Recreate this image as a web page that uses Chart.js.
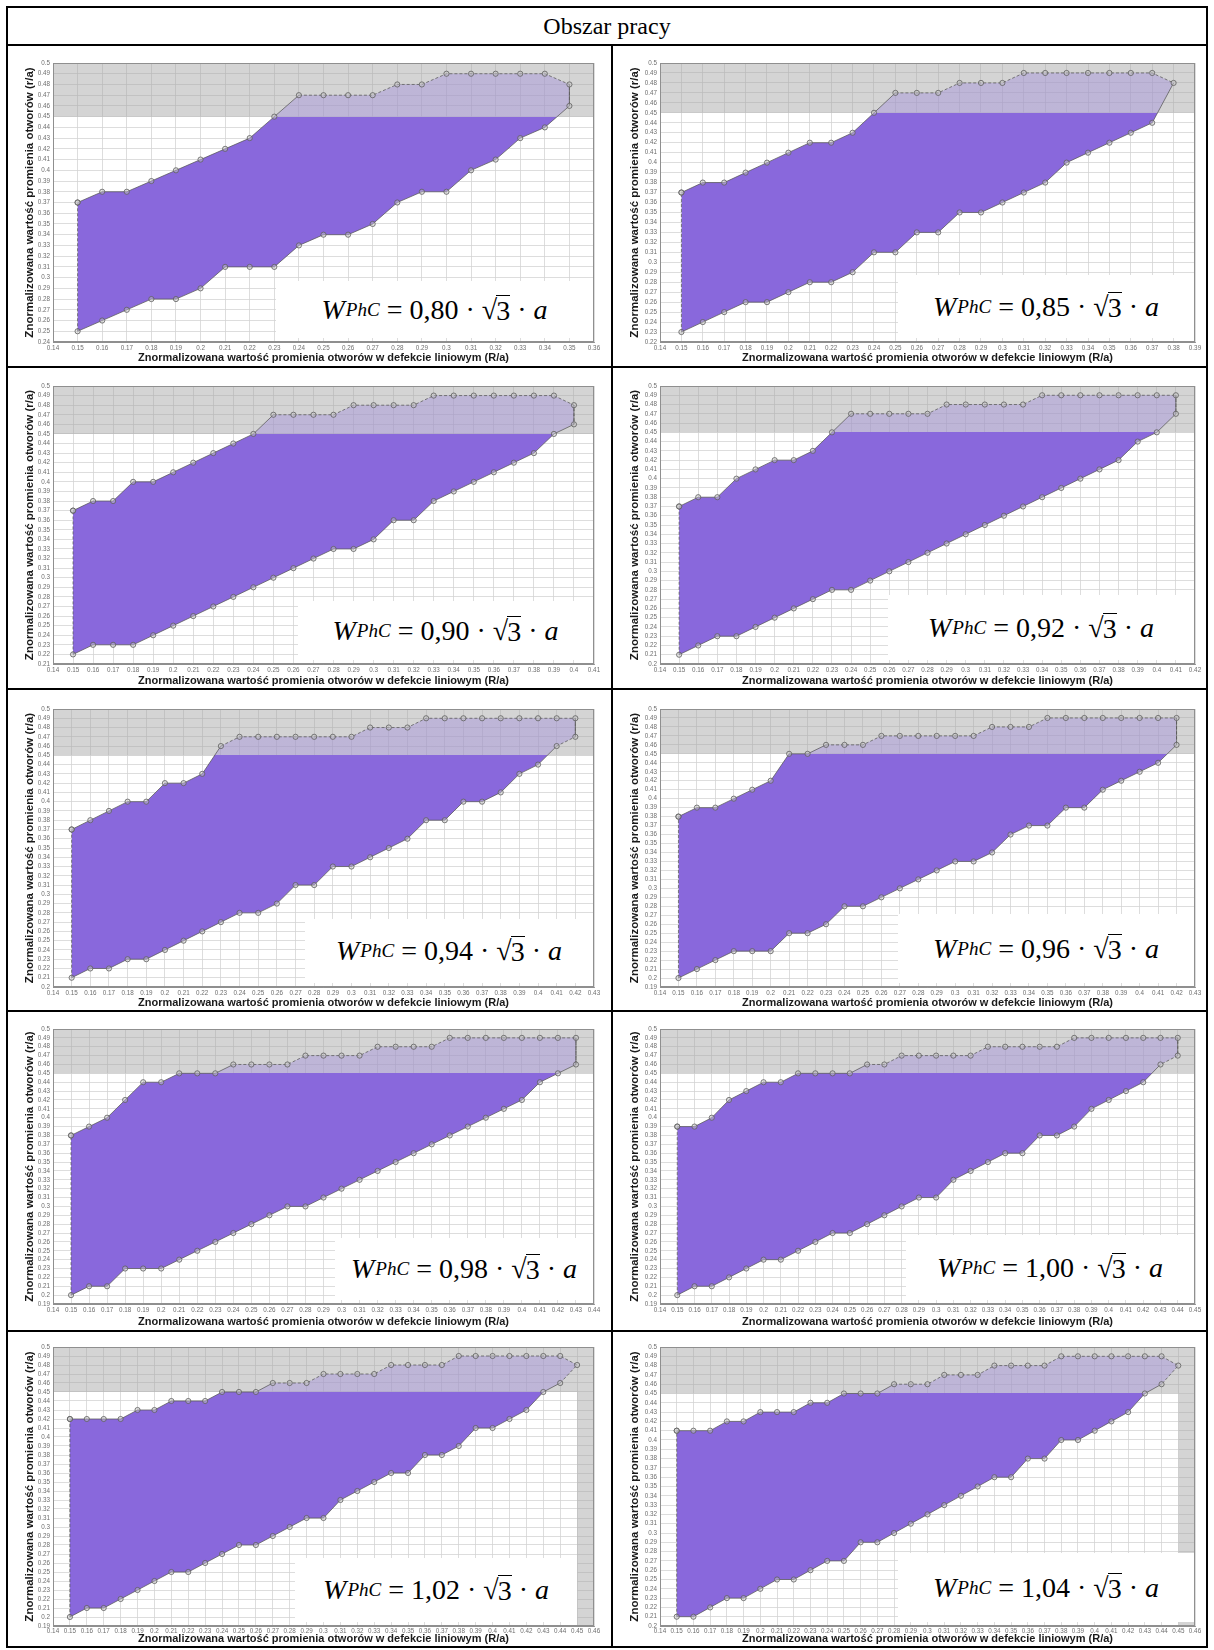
<!DOCTYPE html>
<html>
<head>
<meta charset="utf-8">
<title>Obszar pracy</title>
<script src="https://cdn.jsdelivr.net/npm/chart.js@4.4.1/dist/chart.umd.min.js"></script>
<style>
  html, body { margin: 0; padding: 0; background: #fff; }
  #page { position: relative; width: 1214px; height: 1650px; overflow: hidden; }
  .rule { position: absolute; background: #000; }
  .cell { position: absolute; overflow: hidden; }
  .cell canvas { position: absolute; left: 0; top: 0; }
  #head {
    position: absolute; left: 7px; top: 7px; width: 1200px; height: 38px;
    display: flex; align-items: center; justify-content: center;
    font-family: "Liberation Serif", "Times New Roman", serif; font-size: 24px; color: #000;
  }
  .formula {
    position: absolute; background: #fff;
    display: flex; align-items: center; justify-content: center;
    font-family: "Liberation Serif", "DejaVu Serif", serif; font-size: 28px; color: #000;
    white-space: nowrap;
  }
  .formula i { font-style: italic; }
  .formula sub { font-size: 0.68em; vertical-align: -0.42em; margin-left: 1px; }
  .formula .ov { border-top: 1.4px solid #000; padding-top: 1px; margin-left: -1px; line-height: 1; }
</style>
</head>
<body>
<div id="page">
  <div id="head">Obszar pracy</div>
</div>
<script>
// Normalised hole radius in the line defect (R/a) sampled for each waveguide width
const r080 = [0.15,0.16,0.17,0.18,0.19,0.20,0.21,0.22,0.23,0.24,0.25,0.26,0.27,0.28,0.29,0.30,0.31,0.32,0.33,0.34,0.35];
const up080 = [0.37,0.38,0.38,0.39,0.40,0.41,0.42,0.43,0.45,0.47,0.47,0.47,0.47,0.48,0.48,0.49,0.49,0.49,0.49,0.49,0.48];
const lo080 = [0.25,0.26,0.27,0.28,0.28,0.29,0.31,0.31,0.31,0.33,0.34,0.34,0.35,0.37,0.38,0.38,0.40,0.41,0.43,0.44,0.46];

const r085 = [0.15,0.16,0.17,0.18,0.19,0.20,0.21,0.22,0.23,0.24,0.25,0.26,0.27,0.28,0.29,0.30,0.31,0.32,0.33,0.34,0.35,0.36,0.37,0.38];
const up085 = [0.37,0.38,0.38,0.39,0.40,0.41,0.42,0.42,0.43,0.45,0.47,0.47,0.47,0.48,0.48,0.48,0.49,0.49,0.49,0.49,0.49,0.49,0.49,0.48];
const lo085 = [0.23,0.24,0.25,0.26,0.26,0.27,0.28,0.28,0.29,0.31,0.31,0.33,0.33,0.35,0.35,0.36,0.37,0.38,0.40,0.41,0.42,0.43,0.44];

const r090 = [0.15,0.16,0.17,0.18,0.19,0.20,0.21,0.22,0.23,0.24,0.25,0.26,0.27,0.28,0.29,0.30,0.31,0.32,0.33,0.34,0.35,0.36,0.37,0.38,0.39,0.40];
const up090 = [0.37,0.38,0.38,0.40,0.40,0.41,0.42,0.43,0.44,0.45,0.47,0.47,0.47,0.47,0.48,0.48,0.48,0.48,0.49,0.49,0.49,0.49,0.49,0.49,0.49,0.48];
const lo090 = [0.22,0.23,0.23,0.23,0.24,0.25,0.26,0.27,0.28,0.29,0.30,0.31,0.32,0.33,0.33,0.34,0.36,0.36,0.38,0.39,0.40,0.41,0.42,0.43,0.45,0.46];

const r092 = [0.15,0.16,0.17,0.18,0.19,0.20,0.21,0.22,0.23,0.24,0.25,0.26,0.27,0.28,0.29,0.30,0.31,0.32,0.33,0.34,0.35,0.36,0.37,0.38,0.39,0.40,0.41];
const up092 = [0.37,0.38,0.38,0.40,0.41,0.42,0.42,0.43,0.45,0.47,0.47,0.47,0.47,0.47,0.48,0.48,0.48,0.48,0.48,0.49,0.49,0.49,0.49,0.49,0.49,0.49,0.49];
const lo092 = [0.21,0.22,0.23,0.23,0.24,0.25,0.26,0.27,0.28,0.28,0.29,0.30,0.31,0.32,0.33,0.34,0.35,0.36,0.37,0.38,0.39,0.40,0.41,0.42,0.44,0.45,0.47];

const r094 = [0.15,0.16,0.17,0.18,0.19,0.20,0.21,0.22,0.23,0.24,0.25,0.26,0.27,0.28,0.29,0.30,0.31,0.32,0.33,0.34,0.35,0.36,0.37,0.38,0.39,0.40,0.41,0.42];
const up094 = [0.37,0.38,0.39,0.40,0.40,0.42,0.42,0.43,0.46,0.47,0.47,0.47,0.47,0.47,0.47,0.47,0.48,0.48,0.48,0.49,0.49,0.49,0.49,0.49,0.49,0.49,0.49,0.49];
const lo094 = [0.21,0.22,0.22,0.23,0.23,0.24,0.25,0.26,0.27,0.28,0.28,0.29,0.31,0.31,0.33,0.33,0.34,0.35,0.36,0.38,0.38,0.40,0.40,0.41,0.43,0.44,0.46,0.47];

const r096 = [0.15,0.16,0.17,0.18,0.19,0.20,0.21,0.22,0.23,0.24,0.25,0.26,0.27,0.28,0.29,0.30,0.31,0.32,0.33,0.34,0.35,0.36,0.37,0.38,0.39,0.40,0.41,0.42];
const up096 = [0.38,0.39,0.39,0.40,0.41,0.42,0.45,0.45,0.46,0.46,0.46,0.47,0.47,0.47,0.47,0.47,0.47,0.48,0.48,0.48,0.49,0.49,0.49,0.49,0.49,0.49,0.49,0.49];
const lo096 = [0.20,0.21,0.22,0.23,0.23,0.23,0.25,0.25,0.26,0.28,0.28,0.29,0.30,0.31,0.32,0.33,0.33,0.34,0.36,0.37,0.37,0.39,0.39,0.41,0.42,0.43,0.44,0.46];

const r098 = [0.15,0.16,0.17,0.18,0.19,0.20,0.21,0.22,0.23,0.24,0.25,0.26,0.27,0.28,0.29,0.30,0.31,0.32,0.33,0.34,0.35,0.36,0.37,0.38,0.39,0.40,0.41,0.42,0.43];
const up098 = [0.38,0.39,0.40,0.42,0.44,0.44,0.45,0.45,0.45,0.46,0.46,0.46,0.46,0.47,0.47,0.47,0.47,0.48,0.48,0.48,0.48,0.49,0.49,0.49,0.49,0.49,0.49,0.49,0.49];
const lo098 = [0.20,0.21,0.21,0.23,0.23,0.23,0.24,0.25,0.26,0.27,0.28,0.29,0.30,0.30,0.31,0.32,0.33,0.34,0.35,0.36,0.37,0.38,0.39,0.40,0.41,0.42,0.44,0.45,0.46];

const r100 = [0.15,0.16,0.17,0.18,0.19,0.20,0.21,0.22,0.23,0.24,0.25,0.26,0.27,0.28,0.29,0.30,0.31,0.32,0.33,0.34,0.35,0.36,0.37,0.38,0.39,0.40,0.41,0.42,0.43,0.44];
const up100 = [0.39,0.39,0.40,0.42,0.43,0.44,0.44,0.45,0.45,0.45,0.45,0.46,0.46,0.47,0.47,0.47,0.47,0.47,0.48,0.48,0.48,0.48,0.48,0.49,0.49,0.49,0.49,0.49,0.49,0.49];
const lo100 = [0.20,0.21,0.21,0.22,0.23,0.24,0.24,0.25,0.26,0.27,0.27,0.28,0.29,0.30,0.31,0.31,0.33,0.34,0.35,0.36,0.36,0.38,0.38,0.39,0.41,0.42,0.43,0.44,0.46,0.47];

const r102 = [0.15,0.16,0.17,0.18,0.19,0.20,0.21,0.22,0.23,0.24,0.25,0.26,0.27,0.28,0.29,0.30,0.31,0.32,0.33,0.34,0.35,0.36,0.37,0.38,0.39,0.40,0.41,0.42,0.43,0.44,0.45];
const up102 = [0.42,0.42,0.42,0.42,0.43,0.43,0.44,0.44,0.44,0.45,0.45,0.45,0.46,0.46,0.46,0.47,0.47,0.47,0.47,0.48,0.48,0.48,0.48,0.49,0.49,0.49,0.49,0.49,0.49,0.49,0.48];
const lo102 = [0.20,0.21,0.21,0.22,0.23,0.24,0.25,0.25,0.26,0.27,0.28,0.28,0.29,0.30,0.31,0.31,0.33,0.34,0.35,0.36,0.36,0.38,0.38,0.39,0.41,0.41,0.42,0.43,0.45,0.46];

const r104 = [0.15,0.16,0.17,0.18,0.19,0.20,0.21,0.22,0.23,0.24,0.25,0.26,0.27,0.28,0.29,0.30,0.31,0.32,0.33,0.34,0.35,0.36,0.37,0.38,0.39,0.40,0.41,0.42,0.43,0.44,0.45];
const up104 = [0.41,0.41,0.41,0.42,0.42,0.43,0.43,0.43,0.44,0.44,0.45,0.45,0.45,0.46,0.46,0.46,0.47,0.47,0.47,0.48,0.48,0.48,0.48,0.49,0.49,0.49,0.49,0.49,0.49,0.49,0.48];
const lo104 = [0.21,0.21,0.22,0.23,0.23,0.24,0.25,0.25,0.26,0.27,0.27,0.29,0.29,0.30,0.31,0.32,0.33,0.34,0.35,0.36,0.36,0.38,0.38,0.40,0.40,0.41,0.42,0.43,0.45,0.46];

// Waveguide width factors W_PhC = k·√3·a, one per panel
const widthFactors = [0.80, 0.85, 0.90, 0.92, 0.94, 0.96, 0.98, 1.00, 1.02, 1.04];
const radii  = [r080, r085, r090, r092, r094, r096, r098, r100, r102, r104];
const upper  = [up080, up085, up090, up092, up094, up096, up098, up100, up102, up104];
const lower  = [lo080, lo085, lo090, lo092, lo094, lo096, lo098, lo100, lo102, lo104];

// Axis ranges
const xAxisMin = 0.14;
const xAxisMax = [0.36, 0.39, 0.41, 0.42, 0.43, 0.43, 0.44, 0.45, 0.46, 0.46];
const yAxisMin = [0.24, 0.22, 0.21, 0.20, 0.20, 0.19, 0.19, 0.19, 0.19, 0.20];
const yAxisMax = 0.5;

// Excluded band of hole radii (r/a above 0.45) and excluded R/a column
const bandLow = 0.45;
const bandHigh = 0.5;
const excludedR = [null, null, null, null, null, null, null, null, [0.45, 0.46], [0.45, 0.46]];

const xTitle = 'Znormalizowana wartość promienia otworów w defekcie liniowym (R/a)';
const yTitle = 'Znormalizowana wartość promienia otworów (r/a)';

// ---- page layout ----
const colX = [7, 612, 1207];
const rowY = [45, 367, 689, 1011, 1331, 1647];
const plotTopPad = [18, 19, 20, 18, 16];
const xAxisHeight = [25, 25, 24, 27, 21];
const xTitlePad = [2, 1, 1, 2, 1];
const xTickPad = [2, 2, 2, 2, 1];
const yAxisWidth = [46, 48];
const plotRightPad = [18, 12];
// formula box corner (left, top) inside each cell
const boxPos = [[269,236],[286,230],[291,234],[276,228],[298,230],[286,225],[328,227],[294,224],[288,227],[286,222]];

const PURPLE = 'rgb(137,104,220)';
const LAVENDER = 'rgba(160,140,220,0.42)';
const BAND = 'rgba(160,160,160,0.45)';
const SANS = 'Liberation Sans, Arial, sans-serif';

const page = document.getElementById('page');

function rule(x, y, w, h) {
  const d = document.createElement('div');
  d.className = 'rule';
  d.style.left = x + 'px'; d.style.top = y + 'px';
  d.style.width = w + 'px'; d.style.height = h + 'px';
  page.appendChild(d);
}
// table frame
rule(colX[0] - 1, 6, colX[2] - colX[0] + 2, 2);
for (let i = 0; i < rowY.length; i++) rule(colX[0] - 1, rowY[i] - 1, colX[2] - colX[0] + 2, 2);
rule(colX[0] - 1, 6, 2, rowY[5] - 5);
rule(colX[2] - 1, 6, 2, rowY[5] - 5);
rule(colX[1] - 1, rowY[0], 2, rowY[5] - rowY[0]);

const fmtTick = v => String(parseFloat(Number(v).toFixed(2)));

// outline of the plot box
const frameBox = {
  id: 'frameBox',
  afterDatasetsDraw(chart) {
    const a = chart.chartArea, c = chart.ctx;
    c.save();
    c.strokeStyle = '#8f8f8f';
    c.lineWidth = 1;
    c.strokeRect(Math.round(a.left) + 0.5, Math.round(a.top) + 0.5,
                 Math.round(a.right - a.left) - 1, Math.round(a.bottom - a.top) - 1);
    c.restore();
  }
};

function fillGradient(ctx) {
  const chart = ctx.chart;
  const area = chart.chartArea;
  if (!area || !chart.scales.y) return PURPLE;
  const yCut = chart.scales.y.getPixelForValue(bandLow);
  const t = Math.min(1, Math.max(0, (yCut - area.top) / (area.bottom - area.top)));
  const g = chart.ctx.createLinearGradient(0, area.top, 0, area.bottom);
  g.addColorStop(0, LAVENDER);
  g.addColorStop(t, LAVENDER);
  g.addColorStop(t, PURPLE);
  g.addColorStop(1, PURPLE);
  return g;
}

function buildPanel(i) {
  const col = i % 2, row = Math.floor(i / 2);
  const x0 = colX[col], x1 = colX[col + 1];
  const y0 = rowY[row], y1 = rowY[row + 1];
  const W = x1 - x0, H = y1 - y0;

  const cell = document.createElement('div');
  cell.className = 'cell';
  cell.style.left = x0 + 'px'; cell.style.top = y0 + 'px';
  cell.style.width = W + 'px'; cell.style.height = H + 'px';
  const cv = document.createElement('canvas');
  cv.width = W; cv.height = H;
  cv.style.width = W + 'px'; cv.style.height = H + 'px';
  cell.appendChild(cv);
  page.insertBefore(cell, page.firstChild.nextSibling);

  const r = radii[i], up = upper[i], lo = lower[i];
  const upPts = r.map((x, k) => ({ x, y: up[k] }));
  const loPts = lo.map((y, k) => ({ x: r[k], y }));
  // the lower edge closes onto the last upper point when it stops one step earlier
  const loEdge = loPts.length < upPts.length ? loPts.concat([upPts[upPts.length - 1]]) : loPts;
  const ring = upPts.concat(loPts.slice().reverse(), [upPts[0]]);

  const datasets = [
    {
      data: [{ x: xAxisMin, y: bandHigh }, { x: xAxisMax[i], y: bandHigh }],
      fill: { value: bandLow }, backgroundColor: BAND,
      borderWidth: 0, pointRadius: 0, order: 6
    }
  ];
  if (excludedR[i]) {
    datasets.push({
      data: [{ x: excludedR[i][0], y: bandLow }, { x: excludedR[i][1], y: bandLow }],
      fill: 'start', backgroundColor: BAND,
      borderWidth: 0, pointRadius: 0, order: 5
    });
  }
  datasets.push(
    {
      data: upPts, fill: '+1', backgroundColor: fillGradient,
      borderWidth: 0, pointRadius: 0, order: 3
    },
    {
      data: loEdge, fill: false, backgroundColor: 'transparent',
      borderWidth: 0, pointRadius: 0, order: 4
    },
    {
      data: ring, fill: false,
      borderColor: 'rgba(90,90,90,0.85)', borderWidth: 0.9,
      pointRadius: 2.6, pointBorderWidth: 0.8,
      pointBorderColor: '#5e5e5e', pointBackgroundColor: 'rgba(200,200,200,0.45)',
      segment: {
        borderDash: c => ((c.p0.parsed.y > bandLow + 0.005 && c.p1.parsed.y > bandLow + 0.005) ||
                          c.p0.parsed.x === c.p1.parsed.x) ? [3, 2] : undefined
      },
      order: 0
    }
  );

  const tickFont = { family: SANS, size: 6.3 };
  const chart = new Chart(cv, {
    type: 'line',
    data: { datasets },
    options: {
      responsive: false,
      animation: false,
      events: [],
      layout: { padding: { left: 0, top: plotTopPad[row], right: plotRightPad[col], bottom: 0 } },
      plugins: { legend: { display: false }, tooltip: { enabled: false } },
      scales: {
        x: {
          type: 'linear', min: xAxisMin, max: xAxisMax[i],
          grid: { color: '#d4d4d4', lineWidth: 0.8, drawTicks: false },
          border: { display: true, color: '#8f8f8f' },
          ticks: {
            stepSize: 0.01, autoSkip: false, maxRotation: 0, padding: xTickPad[row],
            color: '#6e6e6e', font: tickFont, callback: fmtTick
          },
          title: {
            display: true, text: xTitle, color: '#1a1a1a',
            font: { family: SANS, size: 11, weight: 'bold' },
            padding: { top: 0, bottom: xTitlePad[row] }
          },
          afterFit: s => { s.height = xAxisHeight[row]; }
        },
        y: {
          type: 'linear', min: yAxisMin[i], max: yAxisMax,
          grid: { color: '#d4d4d4', lineWidth: 0.8, drawTicks: false },
          border: { display: true, color: '#8f8f8f' },
          ticks: {
            stepSize: 0.01, autoSkip: false, padding: 3,
            color: '#6e6e6e', font: tickFont, callback: fmtTick
          },
          title: {
            display: true, text: yTitle, color: '#1a1a1a',
            font: { family: SANS, size: 11.5, weight: 'bold' },
            padding: { top: 16, bottom: 0 }
          },
          afterFit: s => { s.width = yAxisWidth[col]; }
        }
      }
    },
    plugins: [frameBox]
  });

  // white label box with the waveguide width
  const a = chart.chartArea;
  const [bl, bt] = boxPos[i];
  const br = excludedR[i] && i === 8 ? chart.scales.x.getPixelForValue(excludedR[i][0]) : a.right - 1;
  const bb = a.bottom - 4;
  const box = document.createElement('div');
  box.className = 'formula';
  box.style.left = bl + 'px'; box.style.top = bt + 'px';
  box.style.width = (br - bl) + 'px'; box.style.height = (bb - bt) + 'px';
  const k = widthFactors[i].toFixed(2).replace('.', ',');
  box.innerHTML = '<i>W</i><sub><i>PhC</i></sub>&nbsp;=&nbsp;' + k +
    '&nbsp;·&nbsp;√<span class="ov">3</span>&nbsp;·&nbsp;<i>a</i>';
  cell.appendChild(box);
}

for (let i = 0; i < widthFactors.length; i++) buildPanel(i);
</script>
</body>
</html>
